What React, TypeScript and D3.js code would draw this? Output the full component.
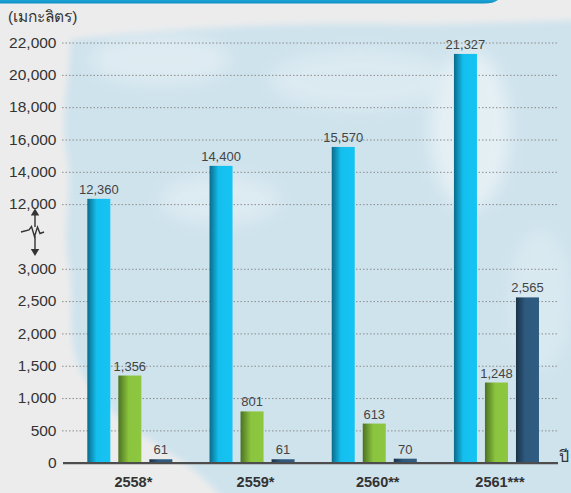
import React from "react";
import * as d3 from "d3";

const categories = ["2558*", "2559*", "2560**", "2561***"];
const seriesKeys = ["s1", "s2", "s3"];
const series1 = [12360, 14400, 15570, 21327];
const series2 = [1356, 801, 613, 1248];
const series3 = [61, 61, 70, 2565];
const lowerTicks = [500, 1000, 1500, 2000, 2500, 3000];
const upperTicks = [12000, 14000, 16000, 18000, 20000, 22000];
const unitLabel = "(เมกะลิตร)";
const xAxisLabel = "ปี";

const W = 571;
const H = 493;
const FONT = "'Liberation Sans', Arial, 'Noto Sans', 'DejaVu Sans', sans-serif";

export default function App() {
  const y0 = 463.2;
  const u = 32.32;
  const y = d3
    .scaleLinear()
    .domain([0, 3000, 12000, 22000])
    .range([y0, y0 - 6 * u, y0 - 8 * u, y0 - 13 * u]);

  const x = d3
    .scaleBand<string>()
    .domain(categories)
    .range([63, 563.3])
    .paddingInner(0.304)
    .paddingOuter(0.199);
  const xi = d3
    .scaleBand<string>()
    .domain(seriesKeys)
    .range([0, x.bandwidth()])
    .paddingInner(0.258)
    .paddingOuter(0);

  const allSeries = [series1, series2, series3];
  const fills = ["url(#gBlue)", "url(#gGreen)", "url(#gNavy)"];
  const gridX0 = 62;
  const gridX1 = 558;
  const fmt = d3.format(",");

  const allTicks = [...lowerTicks, ...upperTicks];

  return (
    <svg
      width={W}
      height={H}
      style={{ position: "absolute", left: 0, top: 0, display: "block" }}
      fontFamily={FONT}
    >
      <defs>
        <linearGradient id="gBlue" x1="0" x2="1" y1="0" y2="0">
          <stop offset="0" stopColor="#0a6a8a" />
          <stop offset="0.4" stopColor="#14bfee" />
          <stop offset="1" stopColor="#15c4f3" />
        </linearGradient>
        <linearGradient id="gGreen" x1="0" x2="1" y1="0" y2="0">
          <stop offset="0" stopColor="#4c7222" />
          <stop offset="0.45" stopColor="#8bc43e" />
          <stop offset="1" stopColor="#8dc63f" />
        </linearGradient>
        <linearGradient id="gNavy" x1="0" x2="1" y1="0" y2="0">
          <stop offset="0" stopColor="#1a3249" />
          <stop offset="0.4" stopColor="#2d5a7e" />
          <stop offset="1" stopColor="#2f5c80" />
        </linearGradient>
        <linearGradient id="gBanner" x1="0" x2="0" y1="0" y2="1">
          <stop offset="0" stopColor="#1aa3d6" />
          <stop offset="1" stopColor="#0f8fc4" />
        </linearGradient>
        <filter id="blur8" filterUnits="userSpaceOnUse" x={0} y={0} width={W} height={H}>
          <feGaussianBlur stdDeviation="8" />
        </filter>
        <filter id="blur3" filterUnits="userSpaceOnUse" x={0} y={0} width={W} height={H}>
          <feGaussianBlur stdDeviation="3" />
        </filter>
      </defs>

      {/* background */}
      <rect x={0} y={0} width={W} height={H} fill="#ececec" />
      <path
        d="M70,40 C150,30 300,20 420,25 L590,20 L590,510 L230,510 C205,470 170,455 150,440 C120,420 95,400 80,370 C65,330 75,300 70,270 C60,230 75,190 66,150 C60,110 72,70 70,40 Z"
        fill="#cfe3ed"
        filter="url(#blur3)"
      />
      <ellipse cx={470} cy={130} rx={40} ry={80} fill="#eef5f8" opacity={0.7} filter="url(#blur8)" />
      <ellipse cx={220} cy={200} rx={60} ry={25} fill="#e6f0f5" opacity={0.6} filter="url(#blur8)" />
      <ellipse cx={360} cy={80} rx={90} ry={30} fill="#e4eff4" opacity={0.6} filter="url(#blur8)" />
      <ellipse cx={540} cy={300} rx={30} ry={70} fill="#e0edf3" opacity={0.6} filter="url(#blur8)" />
      <ellipse cx={160} cy={60} rx={70} ry={25} fill="#e8f1f5" opacity={0.6} filter="url(#blur8)" />

      {/* top banner */}
      <path d="M0,0 L498,0 C495,2.5 490,3.5 484,3.5 L0,3.5 Z" fill="url(#gBanner)" />

      {/* unit label */}
      <text x={8} y={22} fontSize={15.5} fill="#333">
        {unitLabel}
      </text>

      {/* grid lines */}
      {allTicks.map((t) => (
        <line
          key={"g" + t}
          x1={gridX0}
          x2={gridX1}
          y1={y(t)}
          y2={y(t)}
          stroke="#8c8c8c"
          strokeWidth={1}
          strokeDasharray="1.5 2"
        />
      ))}

      {/* tick labels */}
      {[0, ...allTicks].map((t) => (
        <text
          key={"t" + t}
          x={56.5}
          y={y(t)}
          dy="0.3em"
          textAnchor="end"
          fontSize={15.5}
          fill="#333"
        >
          {fmt(t)}
        </text>
      ))}

      {/* break symbol */}
      <g stroke="#333" strokeWidth={1.4} fill="none">
        <line x1={35} x2={35} y1={215} y2={227} />
        <polyline points="21,232 29,230 31.5,226.5 34.5,236.5 37.5,227 40,233.5 44,232" />
        <line x1={35} x2={35} y1={236} y2={249} />
      </g>
      <path d="M35,208.5 L30.8,215.5 L39.2,215.5 Z" fill="#333" />
      <path d="M35,256 L30.8,249 L39.2,249 Z" fill="#333" />

      {/* bars */}
      {categories.map((c, ci) => (
        <g key={c} transform={`translate(${x(c)},0)`}>
          {allSeries.map((s, si) => {
            const v = s[ci];
            const bx = xi(seriesKeys[si]) as number;
            return (
              <g key={si}>
                <rect
                  x={bx}
                  y={y(v)}
                  width={xi.bandwidth()}
                  height={y0 - y(v)}
                  fill={fills[si]}
                />
                <text
                  x={bx + xi.bandwidth() / 2}
                  y={y(v) - 5}
                  textAnchor="middle"
                  fontSize={13}
                  fill="#444"
                >
                  {fmt(v)}
                </text>
              </g>
            );
          })}
        </g>
      ))}

      {/* baseline */}
      <line x1={63} x2={558} y1={y0} y2={y0} stroke="#4d4d4d" strokeWidth={2.2} />

      {/* category labels */}
      {categories.map((c) => (
        <text
          key={"c" + c}
          x={(x(c) as number) + x.bandwidth() / 2 + 3.5}
          y={487}
          textAnchor="middle"
          fontSize={14.5}
          fontWeight="bold"
          fill="#333"
        >
          {c}
        </text>
      ))}

      <text x={559} y={462} fontSize={16} fill="#333">
        {xAxisLabel}
      </text>
    </svg>
  );
}
